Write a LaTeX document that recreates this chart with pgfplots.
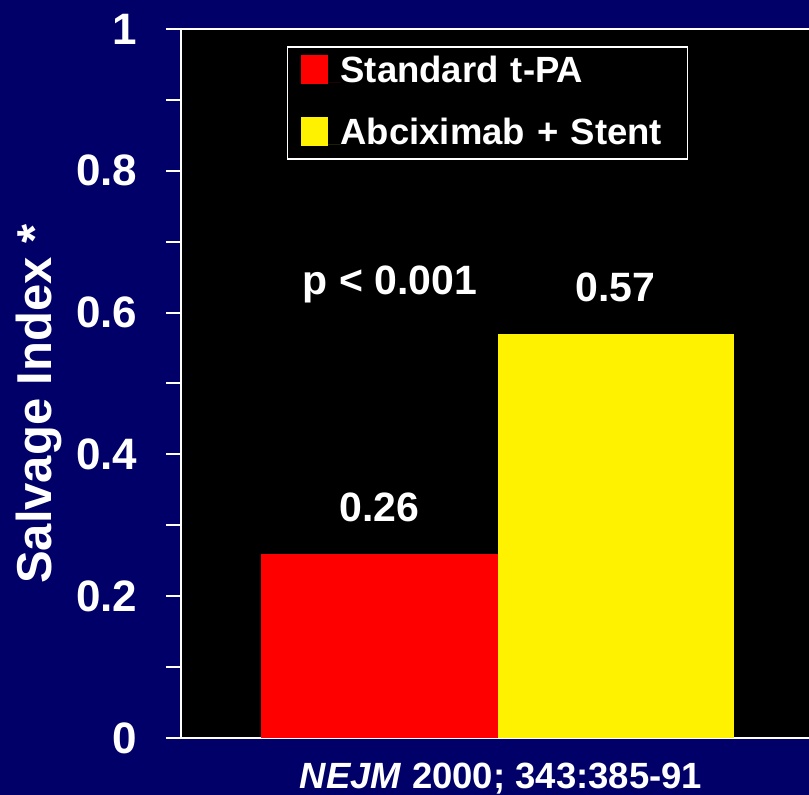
\documentclass[border=0pt]{standalone}
\usepackage{pgfplots}
\pgfplotsset{compat=1.18}
\usepackage{fontspec}
\setmainfont{Liberation Sans}
\definecolor{navybg}{RGB}{0,0,104}
\begin{document}
\begin{tikzpicture}[x=1pt,y=1pt]
\fill[navybg] (0,0) rectangle (809,795);
\useasboundingbox (0,0) rectangle (809,795);
\begin{axis}[
  at={(181pt,57pt)}, anchor=south west,
  scale only axis, width=630pt, height=709pt,
  xmin=0.159, xmax=2.828, ymin=0, ymax=1,
  /pgf/number format/assume math mode=true,
  axis background/.style={fill=black},
  axis line style={white, line width=2pt},
  every tick/.style={white, line width=2pt},
  tick align=outside,
  major tick length=15pt, minor tick length=15pt,
  ytick pos=left,
  xtick=\empty,
  ytick={0,0.2,0.4,0.6,0.8,1},
  yticklabels={0,0.2,0.4,0.6,0.8,1},
  minor ytick={0.1,0.3,0.5,0.7,0.9},
  yticklabel style={font=\fontsize{44}{48}\selectfont\bfseries, text=white, xshift=-25pt},
  ylabel={Salvage Index *},
  every axis y label/.style={at={(axis description cs:-0.2048,0.471)}, rotate=90, anchor=base,
    font=\fontsize{49}{54}\selectfont\bfseries, text=white},
  xlabel={\textit{NEJM} 2000; 343:385-91},
  every axis x label/.style={at={(axis description cs:0.508,-0.0706)}, anchor=base,
    font=\fontsize{36.5}{40}\selectfont\bfseries, text=white},
  ybar, bar width=1,
  nodes near coords={\pgfmathprintnumber[fixed,fixed zerofill,precision=2]{\pgfplotspointmeta}},
  every node near coord/.style={font=\fontsize{41}{45}\selectfont\bfseries, text=white, anchor=base, yshift=32pt},
  legend style={at={(axis description cs:0.168,0.976)}, anchor=north west,
    fill=black, draw=white, line width=1.5pt, text=white,
    font=\fontsize{36.5}{40}\selectfont\bfseries,
    inner xsep=13pt, inner ysep=8pt, row sep=28pt, column sep=0pt,
    cells={anchor=base west},
    nodes={inner sep=0pt, text height=27pt, text depth=6pt, text width=334pt, align=left}},
]
\addplot[fill=red, draw=none, bar shift=0pt,
  legend image code/.code={\fill[red] (0pt,-1pt) rectangle (27pt,28pt); \path (27pt,0pt) -- (40pt,0pt);}]
  coordinates {(1,0.26)};
\addlegendentry{Standard t-PA}
\addplot[fill=yellow, draw=none, bar shift=0pt,
  legend image code/.code={\fill[yellow] (0pt,-1pt) rectangle (27pt,28pt); \path (27pt,0pt) -- (40pt,0pt);}]
  coordinates {(2,0.57)};
\addlegendentry{Abciximab + Stent}
\node[font=\fontsize{41}{45}\selectfont\bfseries, text=white, anchor=base] at (axis cs:1.044,0.625) {p < 0.001};
\draw[white, line width=2pt] (rel axis cs:0,0) -- ++(0,-10pt);
\end{axis}
\end{tikzpicture}
\end{document}
